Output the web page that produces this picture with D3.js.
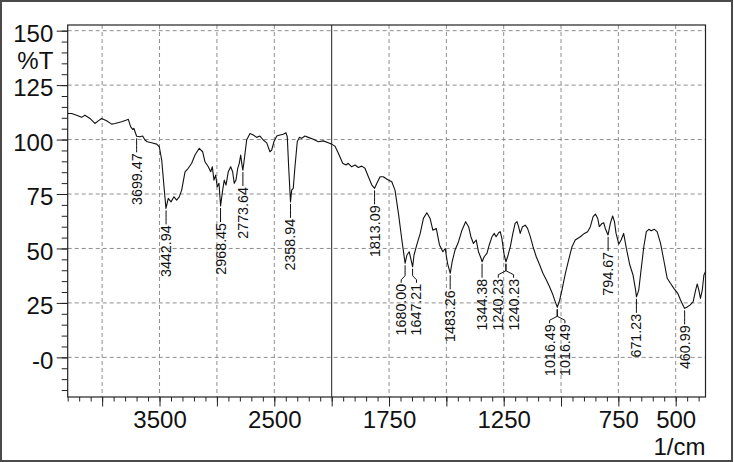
<!DOCTYPE html>
<html>
<head>
<meta charset="utf-8">
<script src="https://cdn.jsdelivr.net/npm/d3@7"></script>
<style>
  body { margin: 0; background: #fff; }
  svg { display: block; font-family: "Liberation Sans", Arial, sans-serif; }
</style>
</head>
<body>
<svg id="chart" width="734" height="462"></svg>
<script>
///////// Spectrum data /////////

// wavenumber in 1/cm, transmittance in %T
const wavenumber = [
  4300, 4266, 4222, 4179, 4150, 4106, 4063, 4034, 4004, 3961, 3917, 3888, 3830, 3787, 3772,
  3752, 3734, 3723, 3708, 3699, 3671, 3647, 3627, 3607, 3569, 3525, 3502, 3481, 3461, 3444,
  3424, 3400, 3374, 3351, 3328, 3307, 3278, 3250, 3220, 3191, 3154, 3124, 3104, 3075, 3054,
  3040, 3026, 3011, 2997, 2982, 2968, 2950, 2936, 2921, 2901, 2880, 2863, 2849, 2834, 2819,
  2805, 2793, 2782, 2774, 2762, 2741, 2712, 2683, 2654, 2625, 2596, 2566, 2538, 2523, 2503,
  2479, 2451, 2422, 2398, 2387, 2375, 2359, 2349, 2335, 2320, 2300, 2282, 2261, 2233, 2204,
  2160, 2117, 2073, 2030, 2000, 1986, 1971, 1952, 1938, 1928, 1913, 1898, 1884, 1869, 1855,
  1840, 1825, 1813, 1803, 1789, 1775, 1757, 1738, 1724, 1709, 1694, 1680, 1672, 1662, 1647,
  1641, 1629, 1614, 1600, 1585, 1571, 1559, 1544, 1530, 1515, 1505, 1495, 1483, 1475, 1462,
  1447, 1432, 1416, 1403, 1393, 1382, 1370, 1360, 1349, 1344, 1335, 1323, 1313, 1301, 1291,
  1283, 1272, 1265, 1258, 1248, 1240, 1233, 1221, 1210, 1200, 1192, 1185, 1178, 1168, 1156,
  1146, 1134, 1122, 1108, 1093, 1079, 1064, 1050, 1035, 1025, 1016, 1006, 996, 981, 967,
  952, 938, 916, 898, 884, 872, 860, 850, 840, 833, 821, 814, 807, 795, 785,
  775, 767, 760, 748, 738, 727, 715, 700, 686, 676, 671, 661, 651, 639, 628,
  617, 607, 593, 581, 566, 552, 537, 523, 508, 491, 479, 465, 461, 453, 438,
  424, 413, 406, 399, 392, 384, 377, 370
];
const transmittance = [
  112.0, 112.0, 111.2, 110.2, 111.2, 109.7, 107.4, 108.6, 109.7, 108.6, 107.1, 107.4, 108.2, 109.0, 109.3,
  105.9, 104.7, 105.1, 102.8, 101.5, 101.3, 101.6, 99.8, 99.0, 98.5, 97.9, 96.7, 90.6, 78.3, 68.4,
  73.0, 71.4, 73.7, 72.2, 73.7, 76.8, 85.2, 86.8, 89.1, 92.9, 96.0, 94.4, 89.8, 87.5, 85.2,
  87.5, 81.4, 83.7, 78.3, 79.9, 69.5, 76.8, 81.4, 79.1, 85.2, 87.5, 85.2, 79.9, 81.4, 86.8,
  89.1, 92.9, 88.5, 86.0, 90.6, 99.8, 102.8, 102.1, 101.0, 101.6, 99.8, 98.5, 94.4, 95.2, 99.0,
  101.6, 102.1, 102.4, 103.1, 101.3, 87.5, 71.4, 76.8, 77.6, 87.5, 99.0, 101.0, 100.6, 101.6, 101.0,
  100.1, 99.0, 99.4, 98.5, 97.9, 97.0, 93.7, 89.1, 88.3, 89.1, 87.5, 88.3, 87.2, 87.8, 86.8,
  82.9, 79.1, 77.6, 79.9, 82.9, 82.9, 81.7, 80.6, 76.8, 66.1, 53.9, 43.2, 47.0, 48.5, 41.6,
  47.0, 51.6, 56.9, 63.8, 66.4, 63.8, 58.4, 59.2, 51.6, 48.5, 50.0, 43.2, 38.6, 43.8, 49.3,
  53.1, 58.4, 62.3, 60.0, 55.4, 52.3, 53.9, 48.5, 45.5, 43.9, 46.2, 47.7, 51.6, 55.4, 56.9,
  55.4, 57.2, 57.7, 54.6, 47.0, 43.9, 46.2, 50.8, 56.9, 61.5, 62.3, 60.0, 56.9, 60.0, 60.7,
  59.2, 55.4, 50.8, 46.2, 42.4, 38.6, 35.5, 32.4, 28.6, 25.5, 23.0, 26.3, 30.9, 38.6, 44.7,
  50.8, 53.9, 55.4, 56.9, 57.7, 60.0, 64.6, 65.8, 63.8, 60.0, 61.5, 61.8, 59.2, 56.2, 61.5,
  64.9, 62.3, 56.9, 52.0, 53.9, 56.9, 50.0, 42.4, 37.8, 31.7, 27.8, 30.9, 40.1, 50.8, 57.7,
  58.8, 58.1, 58.8, 57.7, 52.3, 44.7, 36.3, 34.0, 31.7, 29.4, 26.3, 23.2, 22.5, 22.9, 24.0,
  25.5, 30.9, 33.7, 30.9, 27.1, 30.9, 37.8, 39.3
];

// Peak picks: wavenumber and %T at the peak
const peakWn = [3699.47, 3442.94, 2968.45, 2773.64, 2358.94, 1813.09, 1680.00, 1647.21,
  1483.26, 1344.38, 1240.23, 1240.23, 1016.49, 1016.49, 794.67, 671.23, 460.99];
const peakT = [101.5, 68.4, 69.5, 86.0, 71.4, 77.6, 43.2, 41.6,
  38.6, 43.9, 43.9, 43.9, 23.0, 23.0, 56.2, 27.8, 22.5];

// Axis ticks and labels
const xGrid = [4000, 3500, 3000, 2500, 1750, 1500, 1250, 1000, 750, 500];
const xMajor = [4000, 3500, 3000, 2500, 2000, 1750, 1500, 1250, 1000, 750, 500];
const xLabels = [3500, 2500, 1750, 1250, 750, 500];
const yGrid = [150, 125, 100, 75, 50, 25, 0];
const yLabels = ["150", "125", "100", "75", "50", "25", "-0"];
const yUnit = "%T";
const xUnit = "1/cm";

///////// Scales /////////

const svg = d3.select("#chart");
const plotLeft = 67.7, plotRight = 705.5, plotTop = 25, plotBottom = 397;

// the x axis changes scale at 2000 1/cm (right part is stretched 2x)
const x = d3.scaleLinear().domain([4300, 2000, 370]).range([plotLeft, 331.7, plotRight]);
const y = d3.scaleLinear().domain([-18.2, 152.6]).range([plotBottom, plotTop]);

// outer frame of the picture
svg.append("rect")
  .attr("x", 1).attr("y", 1).attr("width", 731).attr("height", 460)
  .attr("fill", "none").attr("stroke", "#4a4a4a").attr("stroke-width", 2);

///////// Grid /////////

const grid = svg.append("g")
  .attr("stroke", "#8f8f8f")
  .attr("stroke-width", 1)
  .attr("stroke-dasharray", "4,3");

grid.selectAll(".hgrid")
  .data(yGrid)
  .enter()
  .append("line")
  .attr("x1", plotLeft).attr("x2", plotRight)
  .attr("y1", (d) => y(d)).attr("y2", (d) => y(d));

grid.selectAll(".vgrid")
  .data(xGrid)
  .enter()
  .append("line")
  .attr("y1", plotTop).attr("y2", plotBottom)
  .attr("x1", (d) => x(d)).attr("x2", (d) => x(d));

// solid line where the x scale changes
svg.append("line")
  .attr("x1", x(2000)).attr("x2", x(2000))
  .attr("y1", plotTop).attr("y2", plotBottom)
  .attr("stroke", "#222").attr("stroke-width", 1);

///////// Axes /////////

const minorX = d3.range(4300, 2000, -100).concat(d3.range(2000, 399, -50));
const minorY = d3.range(-15, 151, 5);

function styleAxis(g) {
  g.select(".domain").remove();
  g.attr("font-family", null).attr("font-size", 24).attr("color", "#222");
}

svg.append("g")
  .attr("transform", `translate(0,${plotBottom})`)
  .call(d3.axisBottom(x).tickValues(minorX).tickSize(4.5).tickFormat(""))
  .call(styleAxis);

svg.append("g")
  .attr("transform", `translate(0,${plotBottom})`)
  .call(d3.axisBottom(x).tickValues(xMajor).tickSize(9.5).tickPadding(4)
    .tickFormat((d) => (xLabels.includes(d) ? String(d) : "")))
  .call(styleAxis)
  .selectAll("text").attr("fill", "#111");

svg.append("g")
  .attr("transform", `translate(${plotLeft},0)`)
  .call(d3.axisLeft(y).tickValues(minorY).tickSize(6).tickFormat(""))
  .call(styleAxis);

svg.append("g")
  .attr("transform", `translate(${plotLeft},0)`)
  .call(d3.axisLeft(y).tickValues(yGrid).tickSize(11).tickPadding(3.4)
    .tickFormat((d, i) => yLabels[i]))
  .call(styleAxis)
  .selectAll("text").attr("dy", "0.45em").attr("fill", "#111");

// unit labels
svg.append("text")
  .attr("x", plotLeft - 14.4).attr("y", y(137.5)).attr("dy", "0.45em")
  .attr("text-anchor", "end").attr("font-size", 24).attr("fill", "#111")
  .text(yUnit);

svg.append("text")
  .attr("x", plotRight).attr("y", 454.5)
  .attr("text-anchor", "end").attr("font-size", 24).attr("fill", "#111")
  .text(xUnit);

// plot frame
svg.append("rect")
  .attr("x", plotLeft).attr("y", plotTop)
  .attr("width", plotRight - plotLeft).attr("height", plotBottom - plotTop)
  .attr("fill", "none").attr("stroke", "#222").attr("stroke-width", 1.2);

///////// Spectrum /////////

svg.append("clipPath").attr("id", "plotClip")
  .append("rect")
  .attr("x", plotLeft).attr("y", plotTop)
  .attr("width", plotRight - plotLeft).attr("height", plotBottom - plotTop);

const line = d3.line()
  .x((d) => x(d[0]))
  .y((d) => y(d[1]));

svg.append("path")
  .datum(d3.zip(wavenumber, transmittance))
  .attr("clip-path", "url(#plotClip)")
  .attr("fill", "none")
  .attr("stroke", "#111")
  .attr("stroke-width", 1.1)
  .attr("stroke-linejoin", "round")
  .attr("d", line);

///////// Peak labels /////////

const fontPx = 14.3;
const minGap = 15.3; // labels closer than this get spread apart
const drop = 17;     // distance from peak to the top of its text

let peaks = peakWn.map((wn, i) => ({ wn: wn, t: peakT[i], px: x(wn), py: y(peakT[i]) }));
peaks.sort((a, b) => a.px - b.px);

// group labels that would overlap and spread them around their centre
let groups = [];
peaks.forEach((p) => {
  let g = groups[groups.length - 1];
  if (g && p.px - g[g.length - 1].px < minGap) g.push(p);
  else groups.push([p]);
});
groups.forEach((g) => {
  let c = d3.mean(g, (p) => p.px);
  let textTop = d3.max(g, (p) => p.py) + drop;
  g.forEach((p, i) => {
    p.lx = c + (i - (g.length - 1) / 2) * minGap;
    p.textTop = textTop;
  });
});

const labels = svg.append("g");

labels.selectAll(".connector")
  .data(peaks)
  .enter()
  .append("path")
  .attr("fill", "none")
  .attr("stroke", "#111")
  .attr("stroke-width", 1)
  .attr("d", (p) => `M ${p.px} ${p.py + 2} V ${p.textTop - 8} L ${p.lx} ${p.textTop - 4} V ${p.textTop - 1}`);

labels.selectAll(".peaklabel")
  .data(peaks)
  .enter()
  .append("text")
  .attr("transform", (p) => `translate(${p.lx},${p.textTop}) rotate(-90)`)
  .attr("text-anchor", "end")
  .attr("dominant-baseline", "central")
  .attr("font-size", fontPx)
  .attr("fill", "#111")
  .text((p) => p.wn.toFixed(2));
</script>
</body>
</html>
